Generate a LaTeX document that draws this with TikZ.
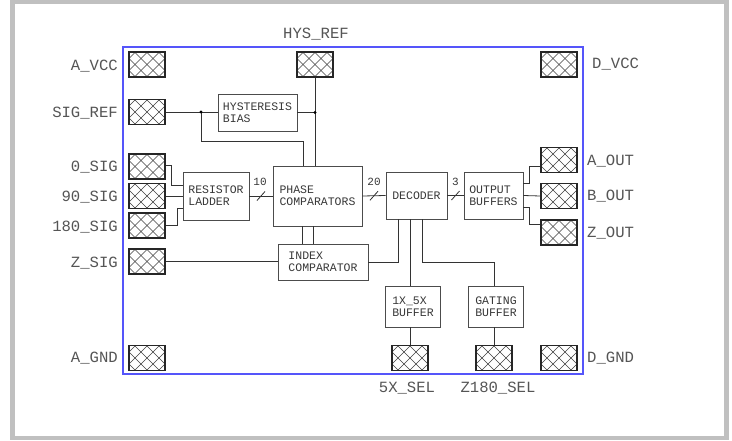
\documentclass[tikz,border=0pt]{standalone}
\usepackage{fontspec}
\newfontfamily\cadfont{Liberation Mono}
\usetikzlibrary{calc}
\definecolor{framegray}{RGB}{192,192,192}
\definecolor{chipblue}{RGB}{85,85,250}
\definecolor{labelgray}{RGB}{85,85,85}
\definecolor{textgray}{RGB}{55,55,55}
\begin{document}
\begin{tikzpicture}[x=1pt,y=-1pt,
  lbl/.style={font=\cadfont\fontsize{15.6}{18}\selectfont, text=labelgray, inner sep=0pt, text depth=0pt},
  blk/.style={draw=black!70, line width=0.8pt, font=\cadfont\fontsize{11.5}{12}\selectfont, text=textgray, align=left, inner sep=0pt},
  buslbl/.style={font=\cadfont\fontsize{11}{12}\selectfont, text=textgray, inner sep=0pt},
  wire/.style={draw=black!80, line width=0.8pt},
  hatch/.style={draw=black!75, line width=0.5pt},
  pad/.style={draw=black!85, line width=1.2pt, minimum width=36pt, minimum height=25pt, inner sep=0pt,
    path picture={
      \foreach \k in {-5,...,5}{
        \draw[hatch] ([shift={(\k*12pt-16pt,-16pt)}]path picture bounding box.center) -- ++(32pt,32pt);
        \draw[hatch] ([shift={(\k*12pt-16pt,16pt)}]path picture bounding box.center) -- ++(32pt,-32pt);
      }
    }},
  jdot/.style={circle, fill=black, inner sep=0pt, minimum size=3.2pt}
]
\useasboundingbox (0,0) rectangle (732,440);
\fill[framegray] (10,0) rectangle (729,440);
\fill[white] (15,4) rectangle (724,436);

% chip outline
\draw[chipblue, line width=1.2pt] (123,47) rectangle (583,374);

% pads
\node[pad] (avcc) at (147,64.5) {};
\node[pad] (hysref) at (315,64.5) {};
\node[pad] (dvcc) at (559,64.5) {};
\node[pad] (sigref) at (147,112) {};
\node[pad] (sig0) at (147,166.5) {};
\node[pad] (sig90) at (147,196) {};
\node[pad] (sig180) at (147,225.5) {};
\node[pad] (zsig) at (147,261.5) {};
\node[pad] (agnd) at (147,358) {};
\node[pad] (aout) at (559,160) {};
\node[pad] (bout) at (559,196) {};
\node[pad] (zout) at (559,232.5) {};
\node[pad] (dgnd) at (559,358) {};
\node[pad] (pad5x) at (410,358) {};
\node[pad] (z180) at (494,358) {};

% pad labels
\node[lbl, anchor=east] (lavcc) at (118,65) {A\_VCC};
\node[lbl, anchor=east] (lsigref) at (118,112) {SIG\_REF};
\node[lbl, anchor=east] (lsig0) at (118,166) {0\_SIG};
\node[lbl, anchor=east] (lsig90) at (118,196) {90\_SIG};
\node[lbl, anchor=east] (lsig180) at (118,226) {180\_SIG};
\node[lbl, anchor=east] (lzsig) at (118,262) {Z\_SIG};
\node[lbl, anchor=east] (lagnd) at (118,357) {A\_GND};
\node[lbl] (lhysref) at (316,33) {HYS\_REF};
\node[lbl, anchor=west] (ldvcc) at (592,63) {D\_VCC};
\node[lbl, anchor=west] (laout) at (587,160) {A\_OUT};
\node[lbl, anchor=west] (lbout) at (587,195) {B\_OUT};
\node[lbl, anchor=west] (lzout) at (587,232) {Z\_OUT};
\node[lbl, anchor=west] (ldgnd) at (587,357) {D\_GND};
\node[lbl] (l5x) at (407,387) {5X\_SEL};
\node[lbl] (lz180) at (498,387) {Z180\_SEL};

% blocks
\node[blk, minimum width=79pt, minimum height=37pt] (hyst) at (257.5,112.5) {HYSTERESIS\\BIAS};
\node[blk, minimum width=66pt, minimum height=48pt] (ladder) at (216,196) {RESISTOR\\LADDER};
\node[blk, minimum width=89pt, minimum height=60pt] (phase) at (317.5,196) {PHASE\\COMPARATORS};
\node[blk, minimum width=61pt, minimum height=47pt] (decoder) at (416.5,195.5) {DECODER};
\node[blk, minimum width=59pt, minimum height=47pt] (outbuf) at (493.5,195.5) {OUTPUT\\BUFFERS};
\node[blk, minimum width=90pt, minimum height=36pt] (index) at (323,262) {INDEX\\COMPARATOR};
\node[blk, minimum width=55pt, minimum height=41pt] (buf1) at (413,306.5) {1X\_5X\\BUFFER};
\node[blk, minimum width=55pt, minimum height=41pt] (gating) at (496,306.5) {GATING\\BUFFER};

% hysteresis wiring
\coordinate (j1) at (201,112);
\coordinate (j2) at (hysref.south |- hyst.east);
\draw[wire] (sigref.east) -- (sigref.east -| hyst.west);
\draw[wire] (hyst.east) -- (j2);
\draw[wire] (hysref.south) -- (hysref.south |- phase.north);
\draw[wire] (j1) |- ([xshift=-14.5pt,yshift=24pt]phase.north) -- ([xshift=-14.5pt]phase.north);
\node[jdot] (d1) at (j1) {};
\node[jdot] (d2) at (j2) {};

% inputs to ladder
\draw[wire] ([yshift=1pt]sig0.east) -| (171,185) -- ([yshift=11pt]ladder.west);
\draw[wire] (sig90.east) -- (ladder.west);
\draw[wire] (sig180.east) -| (177,208) -- ([yshift=-12pt]ladder.west);

% buses
\coordinate (b1) at ($(ladder.east)!0.5!(phase.west)$);
\coordinate (b2) at ($(phase.east)!0.5!(decoder.west)$);
\coordinate (b3) at ($(decoder.east)!0.5!(outbuf.west)$);
\draw[wire] (ladder.east) -- (phase.west);
\draw[wire] (phase.east) -- (decoder.west);
\draw[wire] (decoder.east) -- (outbuf.west);
\foreach \b in {b1,b2,b3}{
  \draw[wire] ($(\b)+(-4,4.5)$) -- ($(\b)+(4,-4.5)$);
}
\node[buslbl] (t10) at ($(b1)+(-1,-14)$) {10};
\node[buslbl] (t20) at ($(b2)+(0,-14)$) {20};
\node[buslbl] (t3) at ($(b3)+(0,-14)$) {3};

% outputs
\draw[wire] ([yshift=12pt]outbuf.east) -- ++(6,0) |- ([yshift=-6pt]aout.west);
\draw[wire] (outbuf.east) -- (bout.west);
\draw[wire] ([yshift=-12pt]outbuf.east) -- ++(6,0) |- ([yshift=8pt]zout.west);

% phase to index
\draw[wire] ([xshift=-15.5pt]phase.south) -- ([xshift=-15.5pt]phase.south |- index.north);
\draw[wire] ([xshift=-4.5pt]phase.south) -- ([xshift=-4.5pt]phase.south |- index.north);
\draw[wire] (zsig.east) -- (zsig.east -| index.west);

% index / decoder / buffers
\draw[wire] (index.east) -| ([xshift=-18.5pt]decoder.south);
\draw[wire] (pad5x.north |- decoder.south) -- (pad5x.north |- buf1.north);
\draw[wire] (pad5x.north |- buf1.south) -- (pad5x.north);
\coordinate (gt) at (z180.north |- index.east);
\draw[wire] ([xshift=5.5pt]decoder.south) |- (gt) -- (gt |- gating.north);
\draw[wire] (z180.north |- gating.south) -- (z180.north);
\end{tikzpicture}
\end{document}
